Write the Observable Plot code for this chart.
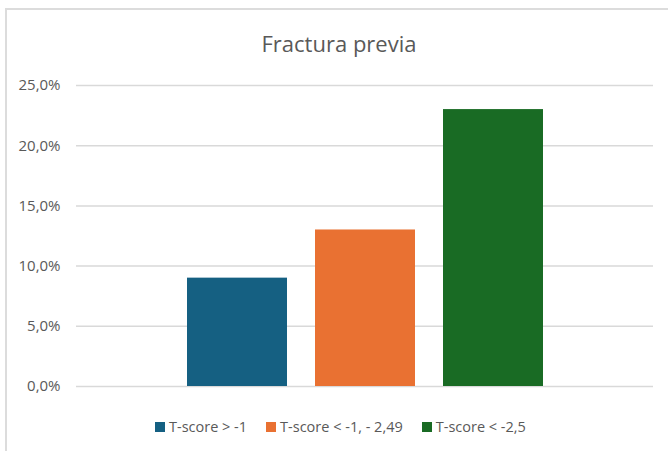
<!DOCTYPE html>
<html>
<head>
<meta charset="utf-8">
<script src="https://cdn.jsdelivr.net/npm/d3@7"></script>
<script src="https://cdn.jsdelivr.net/npm/@observablehq/plot@0.6"></script>
<style>
  html, body { margin: 0; padding: 0; background: #fff; }
  #wrap { position: relative; width: 668px; height: 451px; overflow: hidden; font-family: "Open Sans", sans-serif; }
  #frame { position: absolute; left: 5px; top: 8px; width: 700px; height: 500px; border-top: 2px solid #dcdcdc; border-left: 2px solid #dcdcdc; }
  #title { position: absolute; left: 0; width: 678px; top: 28px; text-align: center; font-size: 22px; color: #595959; }
  #chart { position: absolute; left: 0; top: 0; }
  #legend { position: absolute; left: 155px; top: 417px; display: flex; align-items: center; font-size: 14.5px; color: #595959; white-space: nowrap; }
  .item { display: flex; align-items: center; margin-right: 19px; }
  .sw { width: 10px; height: 10px; margin-right: 4px; }
</style>
</head>
<body>
<div id="wrap">
  <div id="frame"></div>
  <div id="chart"></div>
  <div id="title">Fractura previa</div>
  <div id="legend"></div>
</div>
<script>
const categories = ["T-score > -1", "T-score < -1, - 2,49", "T-score < -2,5"];
const values = [0.09, 0.13, 0.23];
const colors = ["#156082", "#E97132", "#196B24"];
const yTicks = [0, 0.05, 0.10, 0.15, 0.20, 0.25];

const data = categories.map((c, i) => ({category: c, value: values[i]}));
const fmt = d => (d * 100).toFixed(1).replace(".", ",") + "%";

const chart = Plot.plot({
  width: 668,
  height: 451,
  marginLeft: 76,
  marginRight: 15,
  marginTop: 85,
  marginBottom: 65,
  style: {fontFamily: "'Open Sans', sans-serif", fontSize: "15px", background: "transparent"},
  x: {domain: categories, paddingInner: 0.222, paddingOuter: 0.856, axis: null},
  y: {domain: [0, 0.25], axis: null},
  color: {domain: categories, range: colors},
  marks: [
    Plot.gridY(yTicks, {stroke: "#d9d9d9", strokeOpacity: 1, strokeWidth: 1.5}),
    Plot.barY(data, {x: "category", y: "value", fill: "category"}),
    Plot.axisY(yTicks, {tickSize: 0, tickPadding: 16, tickFormat: fmt, color: "#595959", fontSize: 15, label: null})
  ]
});
document.getElementById("chart").appendChild(chart);

const legend = document.getElementById("legend");
categories.forEach((c, i) => {
  const item = document.createElement("div");
  item.className = "item";
  const sw = document.createElement("span");
  sw.className = "sw";
  sw.style.background = colors[i];
  const t = document.createElement("span");
  t.textContent = c;
  item.appendChild(sw);
  item.appendChild(t);
  legend.appendChild(item);
});
</script>
</body>
</html>
